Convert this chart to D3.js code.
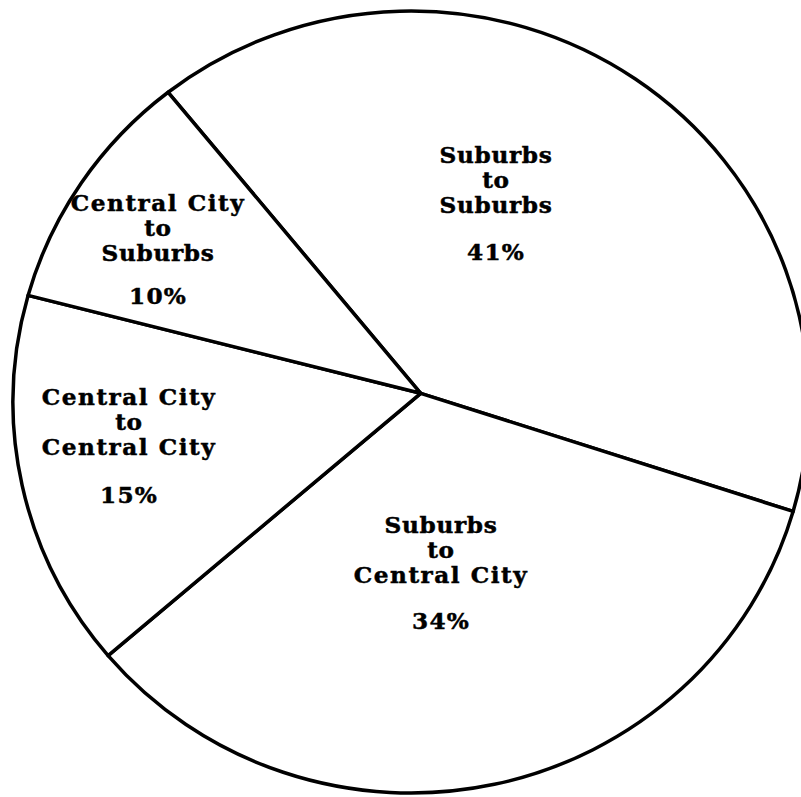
<!DOCTYPE html>
<html>
<head>
<meta charset="utf-8">
<script src="https://cdn.jsdelivr.net/npm/d3@7"></script>
<style>
  html, body { margin: 0; padding: 0; background: #fff; }
  svg { display: block; }
  text { font-family: "DejaVu Serif", serif; font-weight: bold; fill: #000; stroke: #000; stroke-width: 0.5; }
</style>
</head>
<body>
<svg id="chart" width="801" height="797"></svg>
<script>
// Journey-to-work flows, share of commuters
const flows = ["Suburbs to Suburbs", "Suburbs to Central City", "Central City to Central City", "Central City to Suburbs"];
const shares = [41, 34, 15, 10];
const labelLines = [
  ["Suburbs", "to", "Suburbs"],
  ["Suburbs", "to", "Central City"],
  ["Central City", "to", "Central City"],
  ["Central City", "to", "Suburbs"]
];

const W = 801, H = 797;
const svg = d3.select("#chart");

// Outer rim is slightly elliptical; spokes meet a little off its centre
const rim = { cx: 411, cy: 402, rx: 398, ry: 391 };
const hub = { x: 420.7, y: 393.3 };

const pie = d3.pie().sort(null).value(d => d)
  .startAngle(-40 * Math.PI / 180)
  .endAngle(320 * Math.PI / 180);
const arcs = pie(shares);

// Where a ray from the hub at pie angle a meets the rim
function rimPoint(a) {
  const ux = Math.sin(a), uy = -Math.cos(a);
  const px = hub.x - rim.cx, py = hub.y - rim.cy;
  const A = (ux * ux) / (rim.rx * rim.rx) + (uy * uy) / (rim.ry * rim.ry);
  const B = 2 * (px * ux / (rim.rx * rim.rx) + py * uy / (rim.ry * rim.ry));
  const C = (px * px) / (rim.rx * rim.rx) + (py * py) / (rim.ry * rim.ry) - 1;
  const t = (-B + Math.sqrt(B * B - 4 * A * C)) / (2 * A);
  return [hub.x + t * ux, hub.y + t * uy];
}
function rimParam(p) {
  return Math.atan2((p[1] - rim.cy) / rim.ry, (p[0] - rim.cx) / rim.rx);
}
function slicePath(d) {
  const p0 = rimPoint(d.startAngle), p1 = rimPoint(d.endAngle);
  let sweep = rimParam(p1) - rimParam(p0);
  while (sweep < 0) sweep += 2 * Math.PI;
  const large = sweep > Math.PI ? 1 : 0;
  return `M${hub.x},${hub.y}L${p0[0]},${p0[1]}` +
    `A${rim.rx},${rim.ry} 0 ${large} 1 ${p1[0]},${p1[1]}Z`;
}

svg.append("g").selectAll("path")
  .data(arcs)
  .join("path")
  .attr("d", slicePath)
  .attr("fill", "#fff")
  .attr("stroke", "#000")
  .attr("stroke-width", 3.5)
  .attr("stroke-linejoin", "round");

// Label anchors (centre x, first baseline) and line baselines below it
const labelPos = [
  { x: 496, y: 162.5, dy: [0, 25, 50, 97] },
  { x: 441, y: 533, dy: [0, 25, 50, 96] },
  { x: 129, y: 405, dy: [0, 25, 50, 98] },
  { x: 158, y: 211, dy: [0, 25, 50, 93] }
];

const labels = svg.append("g").selectAll("g")
  .data(arcs)
  .join("g");

labels.each(function(d, i) {
  const g = d3.select(this);
  const pos = labelPos[i];
  const lines = labelLines[i].concat([d.data + "%"]);
  g.selectAll("text")
    .data(lines)
    .join("text")
    .attr("x", pos.x)
    .attr("y", (t, j) => pos.y + pos.dy[j])
    .attr("text-anchor", "middle")
    .attr("font-size", 23.2)
    .attr("letter-spacing", t => t.includes(" ") ? 1.5 : (t.endsWith("%") ? 1.2 : 0.7))
    .text(t => t);
});
</script>
</body>
</html>
